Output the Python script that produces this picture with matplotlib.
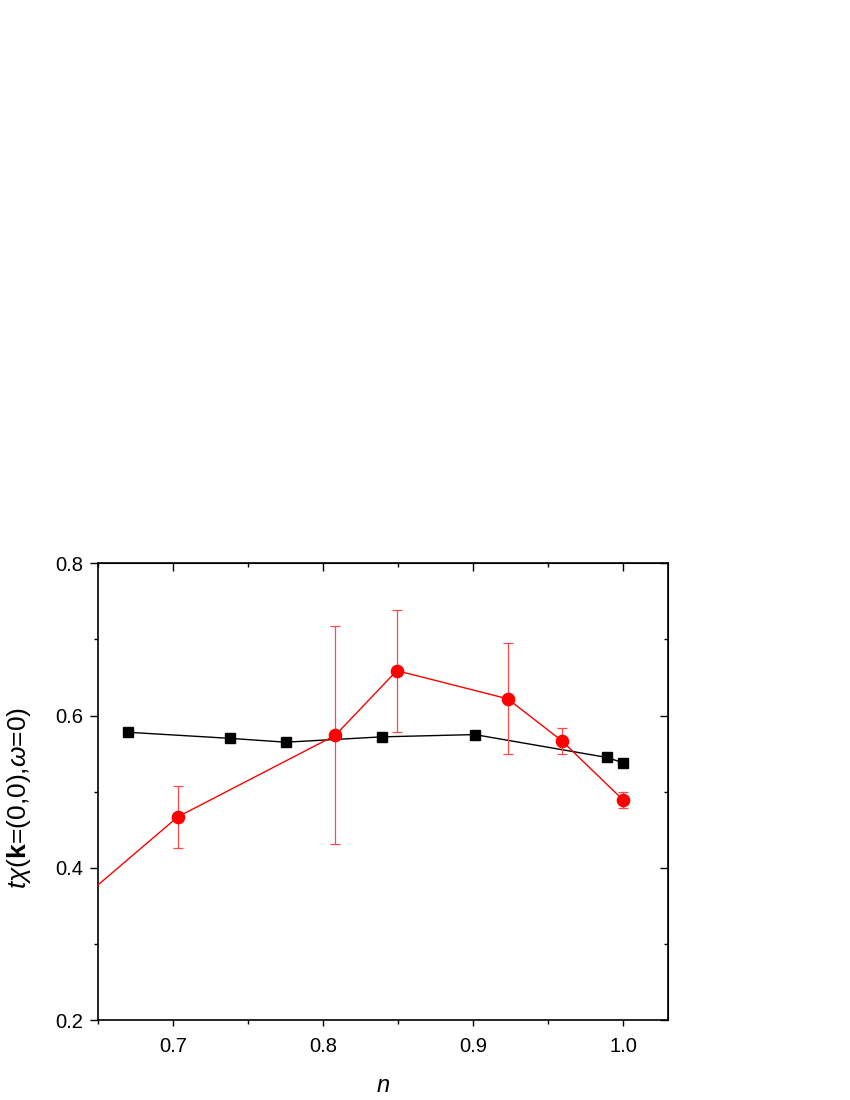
import numpy as np
import matplotlib
matplotlib.use("Agg")
import matplotlib.pyplot as plt
from matplotlib.ticker import MultipleLocator, FormatStrFormatter

plt.rcParams['font.family'] = ['Liberation Sans', 'DejaVu Sans']
plt.rcParams['mathtext.fontset'] = 'custom'
plt.rcParams['mathtext.rm'] = 'Liberation Sans'
plt.rcParams['mathtext.it'] = 'Liberation Sans:italic'
plt.rcParams['mathtext.bf'] = 'Liberation Sans:bold'

# black squares
n_black = [0.670, 0.738, 0.775, 0.839, 0.901, 0.989, 1.000]
t_black = [0.578, 0.570, 0.565, 0.572, 0.575, 0.545, 0.538]

# red circles with error bars (first point lies left of the visible range)
n_red = [0.600, 0.703, 0.808, 0.849, 0.923, 0.959, 1.000]
t_red = [0.294, 0.467, 0.574, 0.659, 0.622, 0.567, 0.489]
err_red = [0.05, 0.041, 0.143, 0.080, 0.073, 0.017, 0.010]

fig = plt.figure(figsize=(8.5, 11), dpi=100)
ax = fig.add_axes([0.1158, 0.0727, 0.786 - 0.1158, 0.4879 - 0.0727])

ax.plot(n_black, t_black, color='black', lw=1.0, marker='s', markersize=7, zorder=3)
ax.errorbar(n_red, t_red, yerr=err_red, color='red', lw=1.0, marker='o',
            markersize=8.8, ecolor='#ff4a4a', elinewidth=0.9, capsize=3.5,
            capthick=0.9, zorder=4)

ax.set_xlim(0.65, 1.03)
ax.set_ylim(0.2, 0.8)
ax.xaxis.set_major_locator(MultipleLocator(0.1))
ax.xaxis.set_minor_locator(MultipleLocator(0.05))
ax.yaxis.set_major_locator(MultipleLocator(0.2))
ax.yaxis.set_minor_locator(MultipleLocator(0.1))
ax.xaxis.set_major_formatter(FormatStrFormatter('%.1f'))
ax.yaxis.set_major_formatter(FormatStrFormatter('%.1f'))

ax.tick_params(which='both', direction='out', width=1.0, labelsize=14.5,
               top=False, right=False)
ax.tick_params(axis='x', which='major', length=4, pad=8)
ax.tick_params(axis='x', which='minor', length=3)
ax.tick_params(axis='y', which='major', length=6, pad=5)
ax.tick_params(axis='y', which='minor', length=3)

# mirrored inward ticks on top and right
top = ax.secondary_xaxis('top')
top.xaxis.set_major_locator(MultipleLocator(0.1))
top.xaxis.set_minor_locator(MultipleLocator(0.05))
top.tick_params(which='major', direction='in', length=6, width=1.0, labeltop=False)
top.tick_params(which='minor', direction='in', length=3, width=1.0)
right = ax.secondary_yaxis('right')
right.yaxis.set_major_locator(MultipleLocator(0.2))
right.yaxis.set_minor_locator(MultipleLocator(0.1))
right.tick_params(which='major', direction='in', length=6, width=1.0, labelright=False)
right.tick_params(which='minor', direction='in', length=3, width=1.0)

for sp in ax.spines.values():
    sp.set_linewidth(1.2)

ax.set_xlabel(r'$n$', fontsize=17, labelpad=14)
ax.set_ylabel(r'$t\chi$($\mathbf{k}$=(0,0),$\omega$=0)', fontsize=19, labelpad=10)
ax.yaxis.set_label_coords(-0.115, 0.486)

fig.savefig('out.png', dpi=100)
